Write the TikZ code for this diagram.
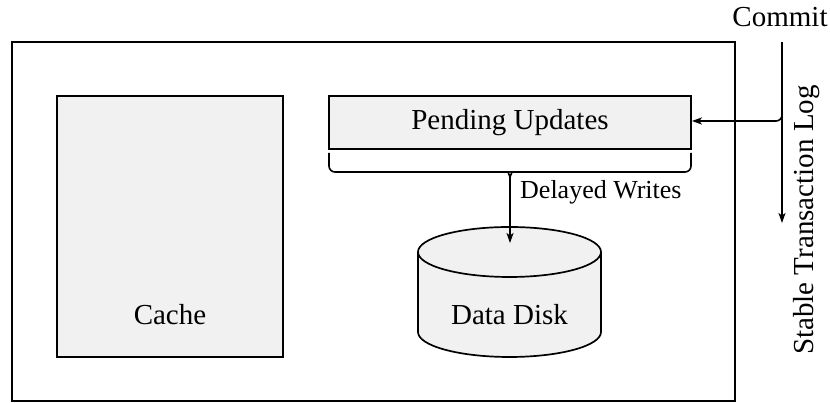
\documentclass[tikz,border=0pt]{standalone}
\usepackage{fontspec}
\setmainfont{Liberation Serif}
\usetikzlibrary{arrows.meta}
\definecolor{boxgray}{HTML}{F1F1F1}
\begin{document}
\begin{tikzpicture}[x=1pt,y=1pt,
  line width=1.7pt,
  big/.style={font=\fontsize{29}{33}\selectfont},
  mid/.style={font=\fontsize{26}{30}\selectfont},
  graybox/.style={draw, fill=boxgray},
  arr/.style={-{Stealth[length=10pt,width=7pt,inset=2.5pt]}, line width=1.6pt}]
\useasboundingbox (0,0) rectangle (830,403);
% outer box
\draw (12,2) rectangle (735,361);
% cache
\draw[graybox] (57,46) rectangle (283,307);
\node[big] (cache) at (170,88) {Cache};
% pending updates
\node[graybox, big, minimum width=362pt, minimum height=53pt, inner sep=0pt] (pend) at (510,280.5) {Pending Updates};
% brace
\coordinate (bl) at (329,250);
\coordinate (br) at (691,250);
\coordinate (bt) at (510,225);
\draw[line width=1.6pt] (bl) [rounded corners=6pt] -- (329,231) -- (503,231) [sharp corners] to[out=0,in=90] (bt);
\draw[line width=1.6pt] (br) [rounded corners=6pt] -- (691,231) -- (517,231) [sharp corners] to[out=180,in=90] (bt);
% disk
\filldraw[fill=boxgray] (418,151) -- (418,71)
  arc[start angle=180,end angle=360,x radius=91.5,y radius=25] -- (601,151)
  arc[start angle=0,end angle=180,x radius=91.5,y radius=25] -- cycle;
\draw (418,151) arc[start angle=180,end angle=360,x radius=91.5,y radius=25];
\node[big] (disk) at (509.5,88) {Data Disk};
\coordinate (dtop) at (510,160);
\draw[arr] (bt) -- (dtop);
\node[mid, anchor=west] (dw) at (516,211) {Delayed Writes};
% log
\node[big] (commit) at (780,386) {Commit};
\coordinate (ltop) at (782,361);
\coordinate (lbot) at (782,180);
\draw[arr] (ltop) -- (lbot);
\draw[arr, rounded corners=6pt] (782,300) |- (pend.east |- 0,282);
\node[big, rotate=90] (log) at (807,183) {Stable Transaction Log};
\end{tikzpicture}
\end{document}
